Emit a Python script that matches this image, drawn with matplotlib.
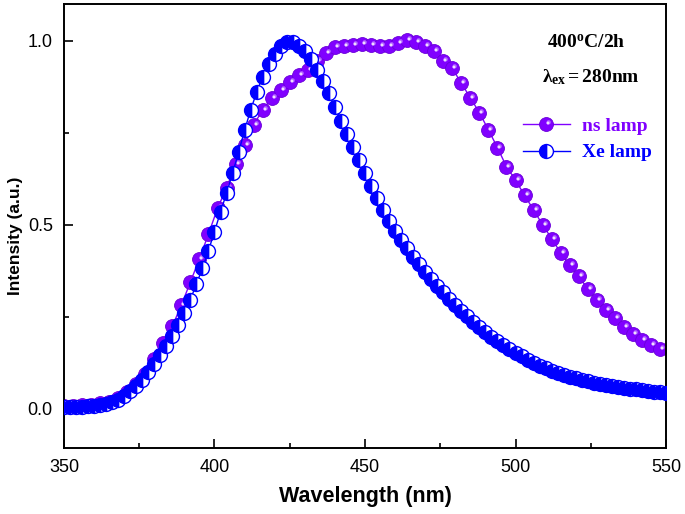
import numpy as np
import matplotlib
matplotlib.use('Agg')
import matplotlib.pyplot as plt
from matplotlib.path import Path
from matplotlib.legend_handler import HandlerTuple

plt.rcParams['font.family'] = 'Liberation Sans'
plt.rcParams['mathtext.fontset'] = 'custom'
plt.rcParams['mathtext.rm'] = 'Liberation Serif'
plt.rcParams['mathtext.bf'] = 'Liberation Serif:bold'
plt.rcParams['mathtext.it'] = 'Liberation Serif:italic'

# ns lamp, every 3 nm from 350 nm
ns_wl = np.arange(350, 549, 3)
ns_int = [0.008, 0.008, 0.010, 0.012, 0.015, 0.020, 0.030, 0.045, 0.068, 0.095,
          0.135, 0.180, 0.225, 0.282, 0.345, 0.408, 0.475, 0.545, 0.600, 0.665,
          0.718, 0.772, 0.812, 0.845, 0.866, 0.889, 0.906, 0.922, 0.944, 0.968,
          0.982, 0.985, 0.990, 0.991, 0.990, 0.986, 0.986, 0.993, 1.003, 0.996,
          0.986, 0.972, 0.945, 0.925, 0.885, 0.845, 0.805, 0.758, 0.710, 0.658,
          0.622, 0.580, 0.541, 0.500, 0.463, 0.424, 0.390, 0.360, 0.326, 0.297,
          0.270, 0.246, 0.222, 0.205, 0.188, 0.173, 0.163]

# Xe lamp, every 2 nm from 350 nm
xe_wl = np.arange(350, 551, 2)
xe_int = [0.005, 0.005, 0.005, 0.006, 0.007, 0.008, 0.010, 0.013, 0.018, 0.025,
          0.035, 0.048, 0.063, 0.080, 0.100, 0.123, 0.147, 0.170, 0.198, 0.228,
          0.260, 0.297, 0.340, 0.382, 0.430, 0.482, 0.535, 0.586, 0.640, 0.697,
          0.757, 0.812, 0.860, 0.903, 0.936, 0.963, 0.986, 0.997, 0.998, 0.986,
          0.972, 0.950, 0.922, 0.890, 0.857, 0.820, 0.783, 0.747, 0.712, 0.676,
          0.641, 0.606, 0.572, 0.540, 0.510, 0.483, 0.458, 0.436, 0.414, 0.393,
          0.373, 0.354, 0.335, 0.317, 0.300, 0.283, 0.267, 0.252, 0.237, 0.223,
          0.209, 0.196, 0.184, 0.173, 0.162, 0.152, 0.143, 0.134, 0.126, 0.118,
          0.111, 0.104, 0.098, 0.093, 0.088, 0.083, 0.079, 0.075, 0.071, 0.068,
          0.065, 0.062, 0.059, 0.057, 0.055, 0.053, 0.051, 0.049, 0.047, 0.045,
          0.044]

purple = '#8000ff'
blue = '#0000ff'
ms = 10

# highlight spot, offset to the upper right of the sphere
spot = Path.circle(center=(0.5, 0.5), radius=0.5)

fig = plt.figure(figsize=(6.85, 5.14), dpi=100)
ax = fig.add_axes([0.0934, 0.1284, 0.8789, 0.8638])

ns_line, = ax.plot(ns_wl, ns_int, '-o', color=purple, lw=1, ms=ms,
                   mec='#6a00d8', mew=0.6, zorder=2)
ns_glow, = ax.plot(ns_wl, ns_int, ls='none', marker=spot, ms=ms * 0.62,
                   mfc='#b266ff', mec='none', zorder=2.1)
ns_spot, = ax.plot(ns_wl, ns_int, ls='none', marker=spot, ms=ms * 0.42,
                   mfc='#f0dcff', mec='none', zorder=2.2)
# white right halves are drawn first, blue left halves on top
xe_line, = ax.plot(xe_wl, xe_int, '-o', color=blue, lw=1, ms=ms,
                   fillstyle='right', mfc='white', mfcalt=blue, mec=blue,
                   mew=1.0, zorder=3)

ax.set_xlim(350, 550)
ax.set_ylim(-0.106, 1.10)
ax.set_xticks([350, 400, 450, 500, 550])
ax.set_xticks([375, 425, 475, 525], minor=True)
ax.set_yticks([0.0, 0.5, 1.0])
ax.set_yticks([0.25, 0.75], minor=True)
ax.tick_params(which='both', direction='in', top=False, right=False,
               labelsize=13, width=1.2, pad=8)
ax.tick_params(which='major', length=6.5)
ax.tick_params(which='minor', length=3.6)
for sp in ax.spines.values():
    sp.set_linewidth(1.4)

ax.set_xlabel('Wavelength (nm)', fontsize=15.5, fontweight='bold', labelpad=7)
ax.set_ylabel('Intensity (a.u.)', fontsize=12.5, fontweight='bold')
ax.yaxis.set_label_coords(-0.068, 0.477)

ax.text(0.868, 0.912, r'$\mathbf{400^{o}C/2h}$', transform=ax.transAxes,
        ha='center', va='center', fontsize=14)
ax.text(0.875, 0.836, r'$\mathbf{\lambda_{ex}=280nm}$', transform=ax.transAxes,
        ha='center', va='center', fontsize=14)

leg = ax.legend([(ns_line, ns_glow, ns_spot), xe_line], ['ns lamp', 'Xe lamp'],
                handler_map={tuple: HandlerTuple(ndivide=1)},
                loc='center left', bbox_to_anchor=(0.7625, 0.695),
                borderaxespad=0, borderpad=0, frameon=False,
                handlelength=2.4, handletextpad=0.65, labelspacing=0.45,
                prop={'family': 'Liberation Serif', 'weight': 'bold', 'size': 14})
for txt, c in zip(leg.get_texts(), [purple, blue]):
    txt.set_color(c)

fig.savefig('out.png', dpi=100)
